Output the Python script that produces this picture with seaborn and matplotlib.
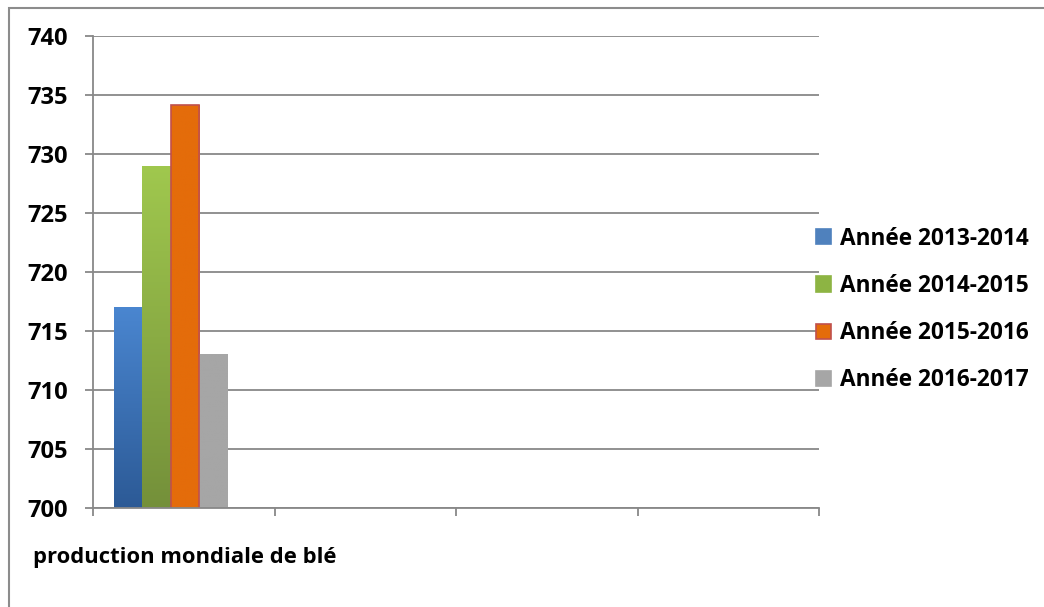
import numpy as np
import pandas as pd
import seaborn as sns
import matplotlib.pyplot as plt
from matplotlib.patches import Patch, Rectangle
from matplotlib.colors import LinearSegmentedColormap

# data
category = "production mondiale de blé"
years = ["Année 2013-2014", "Année 2014-2015", "Année 2015-2016", "Année 2016-2017"]
production = [717.0, 729.0, 734.1, 713.1]
y_ticks = [700, 705, 710, 715, 720, 725, 730, 735, 740]

# colours: (top, bottom) for the bar gradients
bar_tops = ["#4a86d0", "#a0c84e", "#e46c0a", "#a6a6a6"]
bar_bottoms = ["#2c5a96", "#74903a", "#e46c0a", "#a6a6a6"]
legend_colors = ["#4f81bd", "#8db443", "#e46c0a", "#a6a6a6"]
grid_gray = "#888888"

sns.set_theme(style="white")
plt.rcParams["font.family"] = ["Open Sans", "DejaVu Sans"]
plt.rcParams["text.color"] = "black"

df = pd.DataFrame({"cat": [category] * 4, "year": years, "value": production})

fig = plt.figure(figsize=(10.44, 6.07), dpi=100)
ax = fig.add_axes([93 / 1044, 1 - 508.3 / 607, (819 - 93) / 1044, (508.3 - 35.7) / 607])

sns.barplot(data=df, x="cat", y="value", hue="year", hue_order=years,
            palette=legend_colors, width=0.62, dodge=True, legend=False,
            saturation=1, ax=ax)

ax.set_ylim(700, 740)
ax.set_yticks(y_ticks)
ax.set_yticklabels([str(v) for v in y_ticks], fontsize=17, fontweight="bold", color="black")
x0 = -0.427
ax.set_xlim(x0, x0 + 4)
ax.set_xticks([x0 + k for k in range(5)])
ax.set_xticklabels([])

# vertical gradients on the bars
for bar, top, bot in zip(ax.patches, bar_tops, bar_bottoms):
    bx, bw = bar.get_x(), bar.get_width()
    ytop = bar.get_y() + bar.get_height()
    ybot = max(bar.get_y(), 700)
    cmap = LinearSegmentedColormap.from_list("g", [bot, top])
    grad = np.linspace(0, 1, 256).reshape(-1, 1)
    im = ax.imshow(grad, cmap=cmap, extent=(bx, bx + bw, ybot, ytop),
                   origin="lower", aspect="auto", zorder=bar.get_zorder())
    im.set_clip_path(bar)
    bar.set_facecolor("none")
    bar.set_edgecolor("none")
    bar.set_zorder(bar.get_zorder() + 0.1)
ax.patches[2].set_edgecolor("#c0504d")
ax.patches[2].set_linewidth(1.2)
ax.set_xlim(x0, x0 + 4)
ax.set_ylim(700, 740)

ax.yaxis.grid(True, color=grid_gray, linewidth=1.3)
ax.set_axisbelow(True)
for side in ["top", "right"]:
    ax.spines[side].set_visible(False)
for side in ["left", "bottom"]:
    ax.spines[side].set_color(grid_gray)
    ax.spines[side].set_linewidth(1.3)
ax.tick_params(axis="y", length=6, width=1.3, color=grid_gray, pad=12, left=True, labelcolor="black")
ax.tick_params(axis="x", length=6, width=1.3, color=grid_gray, bottom=True)
ax.set_ylabel("")
ax.set_xlabel(category, fontsize=15.8, fontweight="bold", color="black", ha="left", va="center")
ax.xaxis.set_label_coords((33 - 93) / 726, (508.3 - 557) / 472.6)

handles = [Patch(facecolor=c, edgecolor=("#c0504d" if i == 2 else c), linewidth=1.2)
           for i, c in enumerate(legend_colors)]
fig.legend(handles, years, loc="center left", bbox_to_anchor=(816 / 1044, 1 - 309.5 / 607),
           frameon=False, prop={"family": ["Open Sans", "DejaVu Sans"], "weight": "bold", "size": 16.3},
           handlelength=0.65, handleheight=0.65, handletextpad=0.4,
           labelspacing=1.02, borderpad=0, borderaxespad=0, labelcolor="black")

# outer chart frame
fig.patches.append(Rectangle((9 / 1044, -0.05), 1.1, 1 - 8 / 607 + 0.05,
                             transform=fig.transFigure, fill=False,
                             edgecolor="#8c8c8c", linewidth=1.5))

fig.savefig("out.png", dpi=100)
